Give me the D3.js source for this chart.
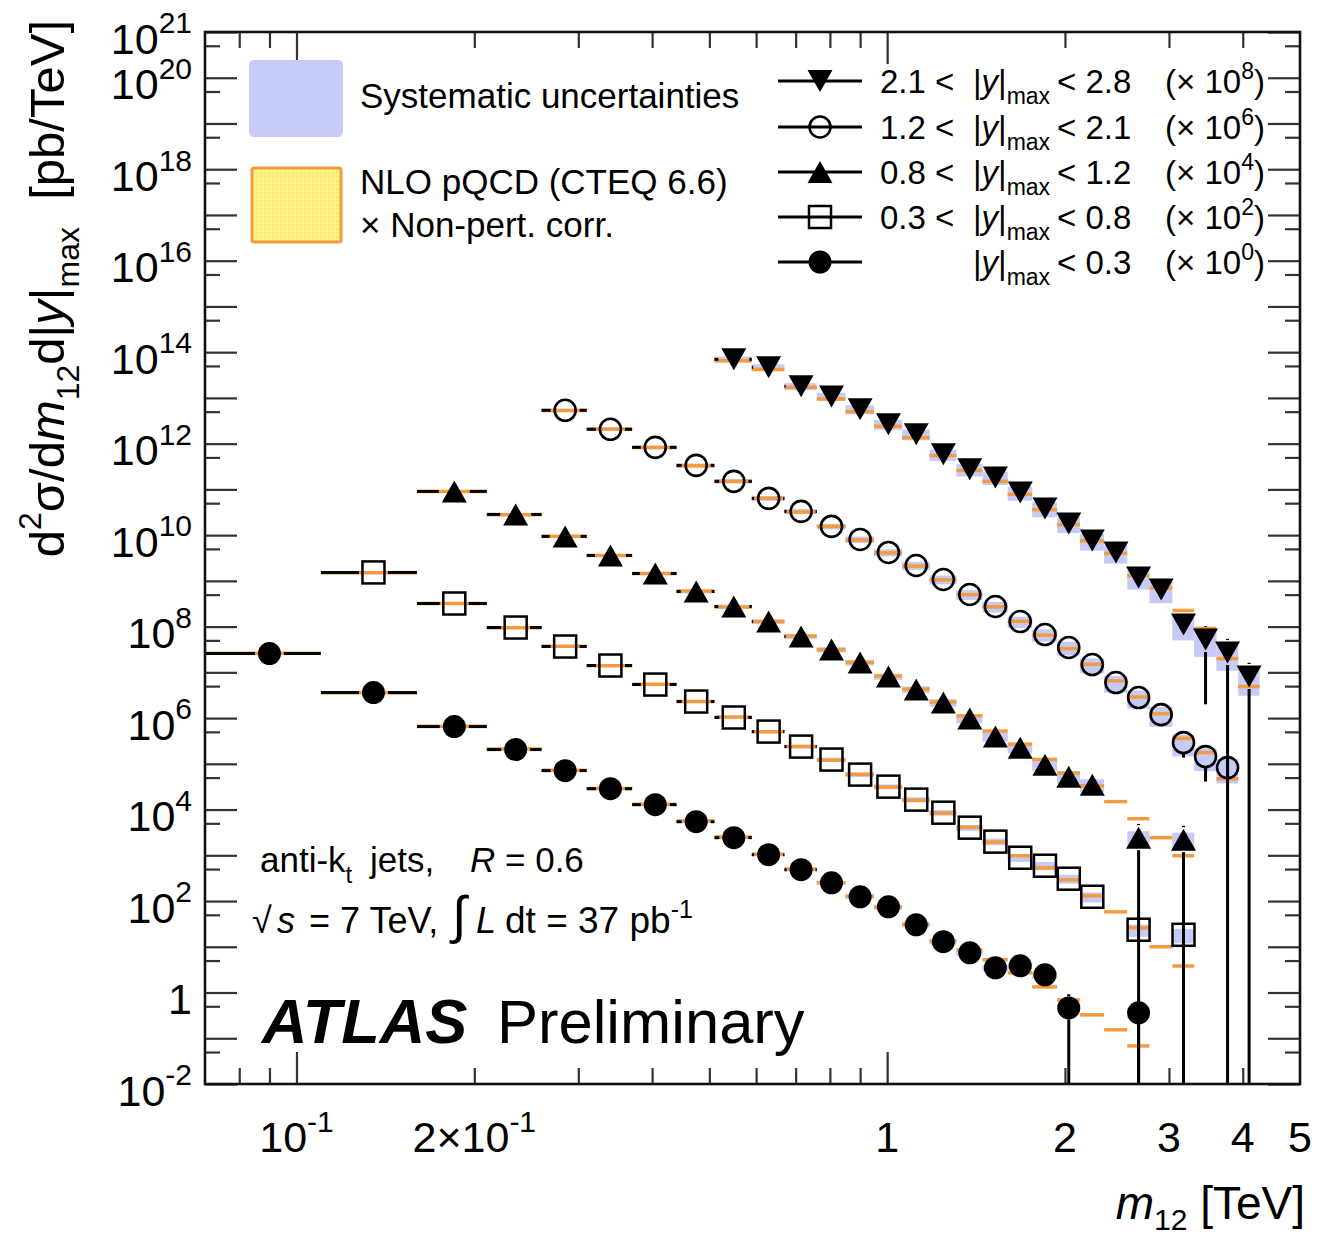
<!DOCTYPE html>
<html><head><meta charset="utf-8">
<script src="https://cdn.jsdelivr.net/npm/d3@7/dist/d3.min.js"></script>
<style>
body{margin:0;background:#fff}
svg{display:block}
text{font-family:"Liberation Sans",Arial,Helvetica,sans-serif;fill:#000;white-space:pre}
</style>
</head><body>
<svg id="c" width="1326" height="1239"></svg>
<script>
// ---------------- data ----------------
// dijet mass bin edges [TeV]
const binEdges = [0.07,0.11,0.16,0.21,0.26,0.31,0.37,0.44,0.51,0.59,0.67,0.76,0.85,0.95,1.06,1.18,1.31,1.45,1.60,1.76,1.94,2.12,2.33,2.55,2.78,3.04,3.31,3.61,3.93,4.27];

// legend rows (top to bottom)
const legendLo  = ["2.1 <","1.2 <","0.8 <","0.3 <",""];
const legendHi  = ["< 2.8","< 2.1","< 1.2","< 0.8","< 0.3"];
const scaleExp  = [8,6,4,2,0];
const markerType = ["triDown","circleOpen","triUp","squareOpen","circle"];

// measured cross sections [pb/TeV] (unscaled), one value per mass bin
const sigma_y21_28 = [null,null,null,null,null,null,null,null,6.98e5,4.68e5,1.79e5,1.08e5,5.62e4,2.64e4,1.60e4,5.83e3,2.74e3,1.83e3,859,384,180,76.6,41.8,11.9,6.49,1.11,0.52,0.27,0.081];
const sigma_y12_21 = [null,null,null,null,5.36e6,2.06e6,8.30e5,3.35e5,1.50e5,6.35e4,3.30e4,1.55e4,8.05e3,4.18e3,2.17e3,1.07e3,504,275,129,67.1,34.9,14.8,5.98,2.81,1.19,0.291,0.144,0.0826,null];
const sigma_y08_12 = [null,null,9.04e6,2.84e6,9.38e5,3.60e5,1.45e5,5.86e4,2.75e4,1.29e4,6.07e3,3.15e3,1.64e3,809,421,218,97.5,39.4,22.6,9.6,5.25,3.5,null,0.243,null,0.22,null,null,null];
const sigma_y03_08 = [null,1.53e7,3.20e6,9.55e5,3.67e5,1.41e5,5.41e4,2.30e4,1.03e4,5.07e3,2.38e3,1.24e3,581,317,165,85.5,40.2,19.9,8.85,5.92,3.08,1.24,null,0.236,null,0.183,null,null,null];
const sigma_y00_03 = [2.58e7,3.61e6,6.52e5,2.05e5,7.10e4,2.86e4,1.28e4,5.43e3,2.43e3,1.03e3,484,251,124,75,30.3,12.9,7.4,3.47,3.84,2.44,0.46,null,null,0.36,null,null,null,null,null];

// NLO pQCD x non-pert. corr.
const theory_y21_28 = [null,null,null,null,null,null,null,null,6.5e5,4.2e5,1.7e5,9.5e4,5.0e4,2.4e4,1.35e4,5.5e3,2.6e3,1.5e3,780,360,170,75,40,13,7.0,2.25,0.91,0.20,0.049];
const theory_y12_21 = [null,null,null,null,5.3e6,2.1e6,8.2e5,3.3e5,1.5e5,6.4e4,3.2e4,1.55e4,7.8e3,4.1e3,2.1e3,1.05e3,500,270,130,65,33,15,6.5,2.9,1.25,0.36,0.176,0.047,null];
const theory_y08_12 = [null,null,9.0e6,2.8e6,9.5e5,3.6e5,1.45e5,6.0e4,2.7e4,1.3e4,6.2e3,3.1e3,1.65e3,830,430,225,112,52,27,12.5,6.3,3.3,1.49,0.63,0.243,0.098,null,null,null];
const theory_y03_08 = [null,1.5e7,3.2e6,9.4e5,3.7e5,1.4e5,5.5e4,2.3e4,1.05e4,5.0e3,2.4e3,1.2e3,590,310,160,84,41,19.5,9.8,5.3,2.9,1.3,0.58,0.26,0.10,0.038,null,null,null];
const theory_y00_03 = [2.6e7,3.6e6,6.6e5,2.1e5,7.2e4,2.9e4,1.3e4,5.6e3,2.5e3,1.05e3,500,250,128,72,31,13.5,8.6,5.2,2.7,1.33,0.69,0.325,0.153,0.068,null,null,null,null,null];

// relative systematic uncertainty
const sys_y21_28 = [null,null,null,null,null,null,null,null,0.15,0.16,0.18,0.2,0.22,0.24,0.26,0.28,0.3,0.32,0.34,0.36,0.38,0.4,0.43,0.46,0.5,0.55,0.58,0.6,0.62];
const sys_y12_21 = [null,null,null,null,0.08,0.08,0.09,0.1,0.11,0.12,0.13,0.14,0.16,0.18,0.2,0.22,0.24,0.26,0.28,0.3,0.33,0.36,0.4,0.43,0.46,0.5,0.52,0.55,null];
const sys_y08_12 = [null,null,0.06,0.06,0.07,0.07,0.08,0.09,0.1,0.11,0.12,0.13,0.14,0.15,0.17,0.19,0.21,0.23,0.25,0.27,0.3,0.32,null,0.38,null,0.42,null,null,null];
const sys_y03_08 = [null,0.05,0.05,0.05,0.06,0.06,0.07,0.07,0.08,0.08,0.09,0.1,0.11,0.12,0.13,0.14,0.15,0.17,0.19,0.2,0.22,0.25,null,0.3,null,0.35,null,null,null];
const sys_y00_03 = [0.04,0.04,0.04,0.05,0.05,0.06,0.06,0.07,0.07,0.08,0.09,0.09,0.1,0.11,0.12,0.13,0.14,0.15,0.16,0.18,0.2,null,null,0.25,null,null,null,null,null];

// absolute statistical errors (only where visible)
const stat_y21_28 = [0,0,0,0,0,0,0,0,0,0,0,0,0,0,0,0,0,0,0,0,0,0,0,0,0,0,0.50,0.27,0.081];
const stat_y12_21 = [0,0,0,0,0,0,0,0,0,0,0,0,0,0,0,0,0,0,0,0,0,0,0,0,0,0.154,0.103,0.03,0];
const stat_y08_12 = [0,0,0,0,0,0,0,0,0,0,0,0,0,0,0,0,0,0,0,0,0,0,0,0.243,0,0.22,0,0,0];
const stat_y03_08 = [0,0,0,0,0,0,0,0,0,0,0,0,0,0,0,0,0,0,0,0,0,0,0,0,0,0,0,0,0];
const stat_y00_03 = [0,0,0,0,0,0,0,0,0,0,0,0,0,0,0,0,0,0,0,0,0.46,0,0,0.36,0,0,0,0,0];

// axis ticks
const yLabelExps = [21,20,18,16,14,12,10,8,6,4,2,0,-2];
const xMajorTicks = [0.1,1];
const xMinorTicks = [0.08,0.09,0.2,0.3,0.4,0.5,0.6,0.7,0.8,0.9,2,3,4];
const xTickLabels = [{v:0.1,t:"10",e:"-1"},{v:0.2,t:"2\u00d710",e:"-1"},{v:1,t:"1"},{v:2,t:"2"},{v:3,t:"3"},{v:4,t:"4"},{v:5,t:"5"}];

// ---------------- drawing ----------------
const svg = d3.select("#c");
const L=205,R=1300,T=32,B=1084;
const x = d3.scaleLog().domain([0.07,5]).range([L,R]);
const y = d3.scaleLog().domain([1e-2,1e21]).range([B,T]);
const BLUE="#c6caf7", ORANGE="#f39b3e";

const defs = svg.append("defs");
defs.append("clipPath").attr("id","clip").append("rect").attr("x",L).attr("y",T).attr("width",R-L).attr("height",B-T);
const pat = defs.append("pattern").attr("id","dots").attr("width",4).attr("height",4).attr("patternUnits","userSpaceOnUse");
pat.append("rect").attr("width",4).attr("height",4).attr("fill","#fff489");
pat.append("circle").attr("cx",1).attr("cy",1).attr("r",0.8).attr("fill","#f3df5a");

const series = [
  {d:sigma_y21_28, th:theory_y21_28, sys:sys_y21_28, st:stat_y21_28},
  {d:sigma_y12_21, th:theory_y12_21, sys:sys_y12_21, st:stat_y12_21},
  {d:sigma_y08_12, th:theory_y08_12, sys:sys_y08_12, st:stat_y08_12},
  {d:sigma_y03_08, th:theory_y03_08, sys:sys_y03_08, st:stat_y03_08},
  {d:sigma_y00_03, th:theory_y00_03, sys:sys_y00_03, st:stat_y00_03}
].map((s,k)=>Object.assign(s,{f:Math.pow(10,scaleExp[k]), m:markerType[k]}));

const bins = d3.range(binEdges.length-1).map(i=>({i, lo:binEdges[i], hi:binEdges[i+1], c:(binEdges[i]+binEdges[i+1])/2}));

const plot = svg.append("g").attr("clip-path","url(#clip)");
const gBand = plot.append("g"), gTh = plot.append("g"), gErr = plot.append("g"), gMk = plot.append("g");

function halfW(m){ return m.startsWith("tri") ? 12.5 : 11.5; }
function drawMarker(g, m, cx, cy){
  const w=25,h=22;
  if(m==="circle") g.append("circle").attr("cx",cx).attr("cy",cy).attr("r",11.5).attr("fill","#000");
  else if(m==="circleOpen") g.append("circle").attr("cx",cx).attr("cy",cy).attr("r",10.5).attr("fill","none").attr("stroke","#000").attr("stroke-width",2.6);
  else if(m==="squareOpen") g.append("rect").attr("x",cx-11).attr("y",cy-11).attr("width",22).attr("height",22).attr("fill","none").attr("stroke","#000").attr("stroke-width",2.5);
  else if(m==="triUp") g.append("path").attr("d",`M${cx},${cy-h/2}L${cx+w/2},${cy+h/2}L${cx-w/2},${cy+h/2}Z`).attr("fill","#000");
  else if(m==="triDown") g.append("path").attr("d",`M${cx},${cy+h/2}L${cx+w/2},${cy-h/2}L${cx-w/2},${cy-h/2}Z`).attr("fill","#000");
}

series.forEach(s=>{
  bins.forEach(b=>{
    const x0=x(b.lo), x1=x(b.hi), cx=x(b.c);
    const v=s.d[b.i], t=s.th[b.i];
    if(v!=null){
      const sy=s.sys[b.i]||0;
      const yt=y(v*s.f*(1+sy)), yb=y(v*s.f*(1-sy));
      gBand.append("rect").attr("x",x0).attr("width",x1-x0).attr("y",yt).attr("height",Math.max(2,yb-yt)).attr("fill",BLUE);
    }
    if(t!=null){
      gTh.append("line").attr("x1",x0).attr("x2",x1).attr("y1",y(t*s.f)).attr("y2",y(t*s.f)).attr("stroke",ORANGE).attr("stroke-width",3.5);
    }
    if(v!=null){
      const cy=y(v*s.f), hw=halfW(s.m);
      const segs=[[x0,cx-hw-3],[cx+hw+3,x1]];
      segs.forEach(([a,c])=>{ if(c-a>0.5) gErr.append("line").attr("x1",a).attr("x2",c).attr("y1",cy).attr("y2",cy).attr("stroke","#000").attr("stroke-width",3); });
      const e=s.st[b.i]||0;
      if(e>0){
        const yHi=y((v+e)*s.f);
        const yLo=(v-e)<=v*1e-3 ? B+5 : y((v-e)*s.f);
        if(yHi<cy-hw) gErr.append("line").attr("x1",cx).attr("x2",cx).attr("y1",yHi).attr("y2",cy-hw).attr("stroke","#000").attr("stroke-width",3);
        if(yLo>cy+hw) gErr.append("line").attr("x1",cx).attr("x2",cx).attr("y1",cy+hw).attr("y2",yLo).attr("stroke","#000").attr("stroke-width",3);
      }
      drawMarker(gMk, s.m, cx, cy);
    }
  });
});

// ---------------- axes ----------------
function addAxis(axis, tf){
  const g=svg.append("g").attr("transform",tf).call(axis);
  g.select(".domain").remove();
  g.selectAll("text").remove();
  g.selectAll("line").attr("stroke","#333").attr("stroke-width",2.2);
}
const yMajor = d3.range(-2,22).map(e=>Math.pow(10,e));
const yMinor = d3.range(-2,21).map(e=>5*Math.pow(10,e));
addAxis(d3.axisBottom(x).tickValues(xMajorTicks).tickSize(-32),`translate(0,${B})`);
addAxis(d3.axisBottom(x).tickValues(xMinorTicks).tickSize(-16),`translate(0,${B})`);
addAxis(d3.axisTop(x).tickValues(xMajorTicks).tickSize(-32),`translate(0,${T})`);
addAxis(d3.axisTop(x).tickValues(xMinorTicks).tickSize(-16),`translate(0,${T})`);
addAxis(d3.axisLeft(y).tickValues(yMajor).tickSize(-32),`translate(${L},0)`);
addAxis(d3.axisLeft(y).tickValues(yMinor).tickSize(-15),`translate(${L},0)`);
addAxis(d3.axisRight(y).tickValues(yMajor).tickSize(-32),`translate(${R},0)`);
addAxis(d3.axisRight(y).tickValues(yMinor).tickSize(-15),`translate(${R},0)`);
svg.append("rect").attr("x",L).attr("y",T).attr("width",R-L).attr("height",B-T).attr("fill","none").attr("stroke","#111").attr("stroke-width",2.6);

// rich text helper
function rich(sel, parts, base){
  let cur=0;
  parts.forEach(p=>{
    const off = p.sup ? -base*(p.raise||0.47) : p.sub ? base*(p.drop||0.3) : 0;
    const ts=sel.append("tspan").text(p.t).attr("dy",off-cur);
    cur=off;
    if(p.x!=null) ts.attr("x",p.x);
    if(p.sup||p.sub) ts.attr("font-size",p.size||base*0.7);
    if(p.size && !(p.sup||p.sub)) ts.attr("font-size",p.size);
    if(p.it) ts.attr("font-style","italic");
    if(p.b) ts.attr("font-weight","bold");
    if(p.dx) ts.attr("dx",p.dx);
  });
  return sel;
}

// y tick labels
yLabelExps.forEach(e=>{
  const t=svg.append("text").attr("x",192).attr("y",y(Math.pow(10,e))+21.5).attr("text-anchor","end").attr("font-size",43);
  if(e===0) t.text("1");
  else rich(t,[{t:"10"},{t:String(e),sup:true,size:30}],43);
});
// x tick labels
xTickLabels.forEach(l=>{
  const t=svg.append("text").attr("x",x(l.v)).attr("y",1152).attr("text-anchor","middle").attr("font-size",43);
  if(l.e) rich(t,[{t:l.t},{t:l.e,sup:true,size:30}],43); else t.text(l.t);
});

// axis titles
const yt=svg.append("text").attr("transform","translate(64,20) rotate(-90)").attr("text-anchor","end").attr("font-size",49);
rich(yt,[{t:"d"},{t:"2",sup:true,size:32},{t:"\u03c3/d"},{t:"m",it:true},{t:"12",sub:true,size:32},{t:"d|"},{t:"y",it:true},{t:"|"},{t:"max",sub:true,size:32},{t:"  [pb/TeV]"}],49);
const xt=svg.append("text").attr("x",1305).attr("y",1219).attr("text-anchor","end").attr("font-size",46);
rich(xt,[{t:"m",it:true},{t:"12",sub:true,size:30,drop:0.24},{t:" [TeV]"}],46);

// ---------------- legends ----------------
svg.append("rect").attr("x",249).attr("y",60).attr("width",94).attr("height",77).attr("rx",5).attr("fill",BLUE);
svg.append("rect").attr("x",252).attr("y",168).attr("width",89).attr("height",74).attr("rx",2).attr("fill","url(#dots)").attr("stroke",ORANGE).attr("stroke-width",3);
svg.append("text").attr("x",360).attr("y",108).attr("font-size",35).text("Systematic uncertainties");
svg.append("text").attr("x",360).attr("y",194).attr("font-size",35).text("NLO pQCD (CTEQ 6.6)");
svg.append("text").attr("x",360).attr("y",237).attr("font-size",35).text("\u00d7 Non-pert. corr.");

const rowY=[81,127,172,217,262];
legendLo.forEach((lo,k)=>{
  const ry=rowY[k];
  svg.append("line").attr("x1",778).attr("x2",862).attr("y1",ry).attr("y2",ry).attr("stroke","#000").attr("stroke-width",3);
  drawMarker(svg,markerType[k],820,ry);
  if(lo) svg.append("text").attr("x",880).attr("y",ry+12).attr("font-size",33).text(lo);
  rich(svg.append("text").attr("x",973).attr("y",ry+12).attr("font-size",33),[{t:"|"},{t:"y",it:true},{t:"|"},{t:"max",sub:true,size:23,drop:0.33}],33);
  svg.append("text").attr("x",1057).attr("y",ry+12).attr("font-size",33).text(legendHi[k]);
  rich(svg.append("text").attr("x",1165).attr("y",ry+12).attr("font-size",33),[{t:"(\u00d7 10"},{t:String(scaleExp[k]),sup:true,size:23,raise:0.42},{t:")"}],33);
});

// ---------------- annotations ----------------
rich(svg.append("text").attr("x",260).attr("y",872).attr("font-size",35),
  [{t:"anti-k"},{t:"t",sub:true,size:24},{t:"jets,",x:370},{t:"R",it:true,x:470},{t:"= 0.6",x:505}],35);
rich(svg.append("text").attr("x",252).attr("y",933).attr("font-size",36),
  [{t:"\u221a"},{t:"s",it:true,x:277},{t:"= 7 TeV,",x:309},{t:"\u222b",size:52,x:452},{t:"L",it:true,x:476},{t:"dt = 37 pb",x:505,size:37},{t:"-1",sup:true,size:25,raise:0.42}],36);
svg.append("text").attr("x",262).attr("y",1043).attr("font-size",63).attr("font-weight","bold").attr("font-style","italic").text("ATLAS");
svg.append("text").attr("x",497).attr("y",1043).attr("font-size",61.5).text("Preliminary");
</script>
</body></html>
